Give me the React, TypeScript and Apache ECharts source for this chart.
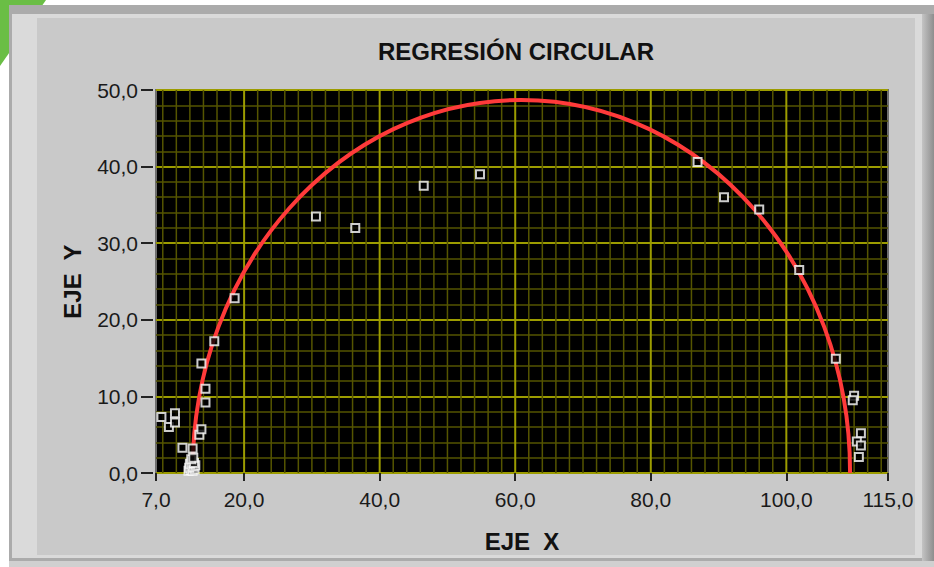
import React, { useEffect, useRef } from "react";
import * as echarts from "echarts";

const TITLE = "REGRESIÓN CIRCULAR";
const X_NAME = "EJE  X";
const Y_NAME = "EJE  Y";

const X_MIN = 7;
const X_MAX = 115;
const Y_MIN = 0;
const Y_MAX = 50;
const Y_STEP = 10;
const X_TICKS = [7, 20, 40, 60, 80, 100, 115];
const X_MAJOR_GRID = [20, 40, 60, 80, 100];
const X_MINOR_STEP = 2;

// measured points (EJE X, EJE Y)
const POINTS_X = [
  7.8, 8.9, 9.8, 9.8, 10.9, 12.4, 13.4, 13.7, 13.7, 14.3, 14.3, 15.6, 18.6,
  11.8, 12.1, 12.4, 12.7, 11.9, 12.2, 12.5, 12.8, 12.0, 12.3, 12.6, 12.2, 12.5,
  30.6, 36.4, 46.5, 54.8,
  86.9, 90.8, 96.0, 101.9, 107.3, 110.0, 109.8, 111.0, 110.4, 111.0, 110.7,
];
const POINTS_Y = [
  7.3, 6.0, 6.6, 7.8, 3.3, 3.2, 5.0, 5.7, 14.3, 11.0, 9.2, 17.2, 22.8,
  0.3, 0.4, 0.3, 0.5, 0.7, 0.9, 0.8, 1.0, 1.2, 1.4, 1.3, 1.8, 2.0,
  33.5, 32.0, 37.5, 39.0,
  40.6, 36.0, 34.4, 26.5, 14.9, 10.1, 9.5, 5.2, 4.1, 3.6, 2.1,
];

// fitted circle
const CIRCLE_CX = 60.9;
const CIRCLE_CY = 0.2;
const CIRCLE_R = 48.5;

const FONT = "Liberation Sans, Arial, sans-serif";
const MAJOR = "#9c9c00";
const MINOR = "#555500";

const fmt = (v: number) => v.toFixed(1).replace(".", ",");

export default function App() {
  const ref = useRef<HTMLDivElement>(null);

  useEffect(() => {
    if (!ref.current) return;
    const chart = echarts.init(ref.current, undefined, { renderer: "svg" });

    const minorX: number[] = [];
    for (let v = X_MIN + 1; v < X_MAX; v += X_MINOR_STEP) {
      if (!X_MAJOR_GRID.includes(v)) minorX.push(v);
    }
    const points = POINTS_X.map((x, i) => [x, POINTS_Y[i]]);

    const vLine = (color: string, width: number) => (params: any, api: any) => {
      const x = api.value(0);
      const p1 = api.coord([x, Y_MIN]);
      const p2 = api.coord([x, Y_MAX]);
      return {
        type: "line",
        silent: true,
        shape: { x1: p1[0], y1: p1[1], x2: p2[0], y2: p2[1] },
        style: { stroke: color, lineWidth: width },
      };
    };

    chart.setOption({
      animation: false,
      backgroundColor: "#ffffff",
      graphic: [
        { type: "polygon", z: -9, silent: true, shape: { points: [[0, 0], [46, 0], [0, 66]] }, style: { fill: "#6abe45" } },
        { type: "rect", z: -8, silent: true, shape: { x: 9, y: 5, width: 925, height: 556 }, style: { fill: "#ababab" } },
        { type: "rect", z: -8, silent: true, shape: { x: 9, y: 561, width: 925, height: 6 }, style: { fill: "#d0d0d0" } },
        { type: "rect", z: -7, silent: true, shape: { x: 12, y: 14, width: 912, height: 544 }, style: { fill: "#dadada" } },
        { type: "rect", z: -6, silent: true, shape: { x: 37, y: 18, width: 878, height: 537 }, style: { fill: "#c9c9c9" } },
        {
          type: "rect", z: -6, silent: true,
          shape: { x: 922, y: 14, width: 12, height: 547 },
          style: {
            fill: new echarts.graphic.LinearGradient(0, 0, 1, 0, [
              { offset: 0, color: "#c4c4c4" },
              { offset: 1, color: "#8e8e8e" },
            ]),
          },
        },
      ],
      title: {
        text: TITLE,
        left: 516,
        top: 39,
        padding: 0,
        textAlign: "center",
        textStyle: { fontFamily: FONT, fontSize: 24, fontWeight: "bold", color: "#111" },
      },
      grid: {
        left: 156,
        top: 90,
        width: 732,
        height: 383,
        show: true,
        backgroundColor: "#000000",
        borderColor: "#6e6e6e",
        borderWidth: 2,
      },
      xAxis: {
        type: "value",
        min: X_MIN,
        max: X_MAX,
        offset: 6,
        axisLine: { show: false },
        axisTick: { show: true, length: 8, customValues: X_TICKS, lineStyle: { color: "#222", width: 2 } },
        axisLabel: {
          customValues: X_TICKS,
          formatter: (v: number) => fmt(v),
          margin: 10,
          fontFamily: FONT,
          fontSize: 21,
          color: "#1a1a1a",
          showMinLabel: true,
          showMaxLabel: true,
        },
        splitLine: { show: false },
        name: X_NAME,
        nameLocation: "middle",
        nameGap: 62,
        nameTextStyle: { fontFamily: FONT, fontSize: 24, fontWeight: "bold", color: "#111", verticalAlign: "middle" },
      },
      yAxis: {
        type: "value",
        min: Y_MIN,
        max: Y_MAX,
        interval: Y_STEP,
        offset: 3,
        axisLine: { show: false },
        axisTick: { show: true, length: 12, lineStyle: { color: "#222", width: 2 } },
        axisLabel: {
          formatter: (v: number) => fmt(v),
          margin: 15,
          fontFamily: FONT,
          fontSize: 21,
          color: "#1a1a1a",
        },
        splitLine: { show: true, lineStyle: { color: MAJOR, width: 2 } },
        minorTick: { show: false, splitNumber: 5 },
        minorSplitLine: { show: true, lineStyle: { color: MINOR, width: 1.5 } },
        name: Y_NAME,
        nameLocation: "middle",
        nameGap: 81,
        nameTextStyle: { fontFamily: FONT, fontSize: 24, fontWeight: "bold", color: "#111", verticalAlign: "middle" },
      },
      series: [
        {
          type: "custom",
          z: 1,
          silent: true,
          data: minorX.map((x) => [x, Y_MIN]),
          renderItem: vLine(MINOR, 1.5),
        },
        {
          type: "custom",
          z: 1,
          silent: true,
          data: X_MAJOR_GRID.map((x) => [x, Y_MIN]),
          renderItem: vLine(MAJOR, 2),
        },
        {
          type: "custom",
          z: 3,
          clip: true,
          silent: true,
          data: [[CIRCLE_CX, CIRCLE_CY, CIRCLE_R]],
          renderItem: (params: any, api: any) => {
            const c = api.coord([api.value(0), api.value(1)]);
            const s = api.size([api.value(2), api.value(2)]);
            return {
              type: "ellipse",
              shape: { cx: c[0], cy: c[1], rx: s[0], ry: s[1] },
              style: { fill: "none", stroke: "#ff3a3a", lineWidth: 4 },
            };
          },
        },
        {
          type: "scatter",
          z: 4,
          clip: true,
          data: points,
          symbol: "rect",
          symbolSize: 8,
          itemStyle: { color: "#000000", borderColor: "#ffffff", borderWidth: 2 },
        },
      ],
    });

    return () => chart.dispose();
  }, []);

  return (
    <div
      ref={ref}
      style={{ position: "fixed", left: 0, top: 0, width: 934, height: 567 }}
    />
  );
}
